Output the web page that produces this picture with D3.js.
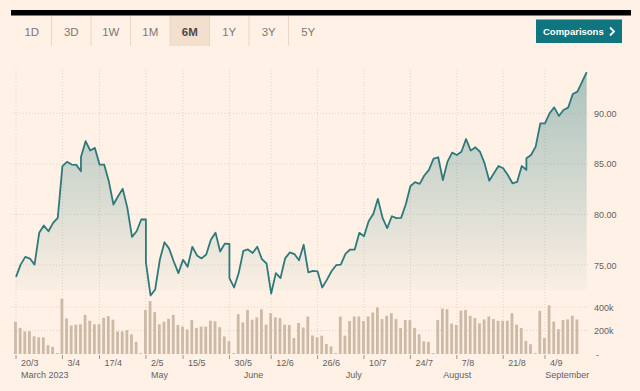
<!DOCTYPE html>
<html>
<head>
<meta charset="utf-8">
<script src="https://cdn.jsdelivr.net/npm/d3@7"></script>
<style>
  html, body { margin: 0; padding: 0; background: #fff1e5; }
  svg { display: block; }
  text { font-family: "Liberation Sans", Arial, sans-serif; }
</style>
</head>
<body>
<div id="chart"></div>
<script>
// tabs across the top
var tabs = ["1D", "3D", "1W", "1M", "6M", "1Y", "3Y", "5Y"];
var activeTab = "6M";

// x axis, by trading-day index from 20/3
var tickLabels = ["20/3", "3/4", "17/4", "2/5", "15/5", "30/5", "12/6", "26/6", "10/7", "24/7", "7/8", "21/8", "4/9"];
var tickIdx = [0, 10, 18, 28, 36, 46, 55, 65, 75, 85, 95, 105, 114];
var monthLabels = ["March 2023", "May", "June", "July", "August", "September"];
var monthIdx = [0, 28, 48, 70, 91, 113];

// closing price, one per trading day
var price = [
  73.82, 75.04, 75.80, 75.64, 75.04, 78.18, 78.90, 78.34, 79.16, 79.66,
  84.77, 85.20, 84.93, 84.90, 85.69, 87.24, 86.32, 86.58, 84.93, 84.93,
  83.29, 80.98, 81.80, 82.53, 80.65, 77.78, 78.34, 79.50, 75.25, 71.98,
  72.58, 75.52, 77.25, 76.62, 75.35, 74.20, 75.52, 74.82, 76.80, 75.95,
  75.65, 76.04, 77.50, 78.20, 76.33, 77.11, 73.70, 72.78, 74.20, 76.40,
  76.54, 76.18, 76.80, 75.58, 75.15, 72.18, 74.20, 73.70, 75.65, 76.24,
  76.08, 75.47, 77.00, 74.28, 74.42, 74.36, 72.78, 73.53, 74.38, 74.98,
  75.04, 76.10, 76.53, 76.53, 78.18, 77.85, 79.33, 80.05, 81.54, 79.66,
  78.64, 79.82, 79.63, 79.66, 80.98, 82.79, 83.19, 83.02, 83.85, 84.40,
  85.52, 85.65, 83.40, 85.22, 86.11, 85.88, 86.20, 87.46, 86.31, 86.64,
  86.20, 85.05, 83.34, 84.07, 84.79, 84.56, 83.90, 83.08, 83.21, 84.79,
  85.55, 85.88, 86.70, 89.01, 89.01, 90.00, 90.59, 89.74, 90.33, 90.56,
  91.91, 92.14, 93.10, 94.06
];

// bank holidays: drawn at the next trading day's position
var holidayIdx = [14, 28, 46, 110];
var holidayPrice = [84.27, 79.50, 77.09, 84.40];

// daily volume
var volume = [
  275000, 222000, 192000, 194000, 150000, 142000, 142000, 75000, 61000, 8000,
  470000, 303000, 242000, 250000, 253000, 333000, 283000, 253000, 253000, 308000,
  322000, 292000, 192000, 192000, 203000, 167000, 103000, 8000, 375000, 450000,
  356000, 253000, 275000, 300000, 333000, 247000, 233000, 208000, 289000, 222000,
  233000, 233000, 283000, 278000, 228000, 150000, 108000, 8000, 339000, 269000,
  375000, 292000, 311000, 381000, 250000, 347000, 312000, 306000, 250000, 247000,
  136000, 264000, 225000, 319000, 158000, 142000, 156000, 86000, 64000, 8000,
  319000, 156000, 281000, 319000, 319000, 281000, 319000, 353000, 397000, 297000,
  325000, 347000, 297000, 222000, 289000, 289000, 222000, 167000, 108000, 103000,
  8000, 289000, 386000, 381000, 258000, 247000, 369000, 375000, 325000, 306000,
  261000, 294000, 319000, 297000, 283000, 283000, 283000, 347000, 250000, 222000,
  111000, 83000, 8000, 367000, 136000, 414000, 275000, 211000, 289000, 294000,
  325000, 294000
];

var priceTicks = [75, 80, 85, 90];
var volumeTicks = [0, 200000, 400000];

var width = 640,
    height = 391;

var svg = d3.select("#chart").append("svg")
    .attr("width", width)
    .attr("height", height);

var x = d3.scaleLinear()
    .domain([0, price.length - 1])
    .range([16, 586.7]);

var y = d3.scaleLinear()
    .domain([75, 90])
    .range([265, 113.3]);

var yv = d3.scaleLinear()
    .domain([0, 400000])
    .range([354, 307]);

//=============== header ===============
svg.append("rect")
    .attr("x", 11).attr("y", 10)
    .attr("width", 620).attr("height", 5.5)
    .attr("fill", "#000");

var tabW = 39.5;
var tab = svg.selectAll(".tab")
    .data(tabs)
    .enter().append("g")
    .attr("class", "tab")
    .attr("transform", function(d, i) { return "translate(" + (12 + i * tabW) + ",16)"; });

tab.append("rect")
    .attr("width", tabW)
    .attr("height", 30)
    .attr("fill", function(d) { return d == activeTab ? "#f2dfce" : "none"; });

tab.filter(function(d, i) { return i > 0; })
  .append("line")
    .attr("x1", 0).attr("x2", 0)
    .attr("y1", 0).attr("y2", 30)
    .attr("stroke", "#ead7c5");

tab.append("text")
    .attr("x", tabW / 2)
    .attr("y", 20)
    .attr("text-anchor", "middle")
    .attr("font-size", 11.5)
    .attr("font-weight", function(d) { return d == activeTab ? "bold" : "normal"; })
    .attr("fill", function(d) { return d == activeTab ? "#4d4845" : "#7f7771"; })
    .text(function(d) { return d; });

// comparisons button
svg.append("rect")
    .attr("x", 536).attr("y", 19.5)
    .attr("width", 86).attr("height", 23.5)
    .attr("fill", "#0f7680");
svg.append("text")
    .attr("x", 543).attr("y", 35)
    .attr("font-size", 9.5)
    .attr("font-weight", "bold")
    .attr("fill", "#fff")
    .text("Comparisons");
svg.append("path")
    .attr("d", "M610,27.5 L614,31.5 L610,35.5")
    .attr("fill", "none")
    .attr("stroke", "#fff")
    .attr("stroke-width", 1.8);

//=============== grid ===============
var grid = svg.append("g").attr("class", "grid");

grid.selectAll(".vgrid")
    .data(tickIdx)
    .enter().append("line")
    .attr("x1", function(d) { return x(d); })
    .attr("x2", function(d) { return x(d); })
    .attr("y1", 70).attr("y2", 354)
    .attr("stroke", "#e2d4c7")
    .attr("stroke-dasharray", "1,2");

grid.selectAll(".hgrid")
    .data(priceTicks)
    .enter().append("line")
    .attr("x1", 11).attr("x2", 590)
    .attr("y1", function(d) { return y(d); })
    .attr("y2", function(d) { return y(d); })
    .attr("stroke", "#e2d4c7")
    .attr("stroke-dasharray", "1,2");

grid.selectAll(".vlgrid")
    .data(volumeTicks.slice(1))
    .enter().append("line")
    .attr("x1", 11).attr("x2", 590)
    .attr("y1", function(d) { return yv(d); })
    .attr("y2", function(d) { return yv(d); })
    .attr("stroke", "#e2d4c7")
    .attr("stroke-dasharray", "1,2");

//=============== volume bars ===============
svg.selectAll(".vol")
    .data(volume)
    .enter().append("rect")
    .attr("class", "vol")
    .attr("x", function(d, i) { return x(i) - 1.9; })
    .attr("width", 2.8)
    .attr("y", function(d) { return yv(d); })
    .attr("height", function(d) { return yv(0) - yv(d); })
    .attr("fill", "#ccbaa7");

//=============== price line + area ===============
var pts = [];
price.forEach(function(p, i) {
    var h = holidayIdx.indexOf(i);
    if (h >= 0) pts.push([i, holidayPrice[h]]);
    pts.push([i, p]);
});

var defs = svg.append("defs");
var grad = defs.append("linearGradient")
    .attr("id", "fade")
    .attr("gradientUnits", "userSpaceOnUse")
    .attr("x1", 0).attr("x2", 0)
    .attr("y1", y(94)).attr("y2", y(72.5));
grad.append("stop").attr("offset", "0%").attr("stop-color", "#2a7c80").attr("stop-opacity", 0.4);
grad.append("stop").attr("offset", "100%").attr("stop-color", "#2a7c80").attr("stop-opacity", 0.02);

var area = d3.area()
    .x(function(d) { return x(d[0]); })
    .y0(y(72.5))
    .y1(function(d) { return y(d[1]); });

var line = d3.line()
    .x(function(d) { return x(d[0]); })
    .y(function(d) { return y(d[1]); });

svg.append("path")
    .datum(pts)
    .attr("d", area)
    .attr("fill", "url(#fade)");

svg.append("path")
    .datum(pts)
    .attr("d", line)
    .attr("fill", "none")
    .attr("stroke", "#2e797b")
    .attr("stroke-width", 1.8)
    .attr("stroke-linejoin", "round");

//=============== axes labels ===============
svg.selectAll(".plabel")
    .data(priceTicks)
    .enter().append("text")
    .attr("x", 594)
    .attr("y", function(d) { return y(d) + 3.5; })
    .attr("font-size", 9)
    .attr("fill", "#66605c")
    .text(function(d) { return d3.format(".2f")(d); });

svg.selectAll(".vlabel")
    .data(volumeTicks)
    .enter().append("text")
    .attr("x", function(d) { return d ? 594 : 596; })
    .attr("y", function(d) { return yv(d) + 3.5; })
    .attr("font-size", 9)
    .attr("fill", "#66605c")
    .text(function(d) { return d ? d / 1000 + "k" : "-"; });

var xt = svg.selectAll(".xtick")
    .data(tickIdx)
    .enter().append("g")
    .attr("transform", function(d) { return "translate(" + x(d) + ",0)"; });

xt.append("line")
    .attr("y1", 355).attr("y2", 359)
    .attr("stroke", "#9c948d");

xt.append("text")
    .attr("x", 5)
    .attr("y", 365.5)
    .attr("font-size", 9)
    .attr("fill", "#66605c")
    .text(function(d, i) { return tickLabels[i]; });

svg.selectAll(".month")
    .data(monthIdx)
    .enter().append("text")
    .attr("x", function(d) { return x(d) + 5; })
    .attr("y", 377.5)
    .attr("font-size", 9)
    .attr("fill", "#66605c")
    .text(function(d, i) { return monthLabels[i]; });
</script>
</body>
</html>
